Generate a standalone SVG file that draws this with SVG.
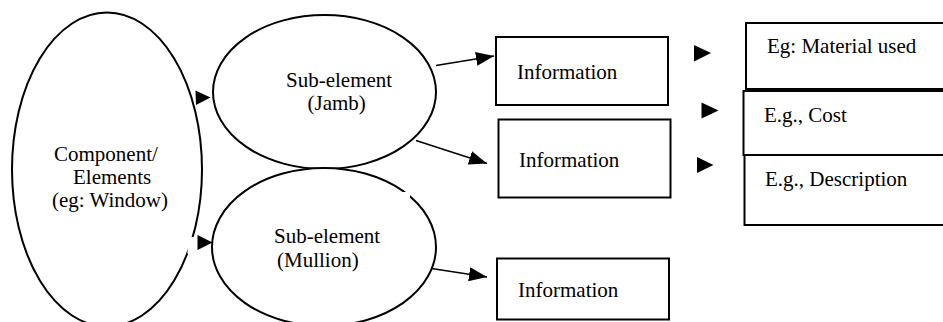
<svg xmlns="http://www.w3.org/2000/svg" width="943" height="322" viewBox="0 0 943 322">
  <defs>
    <style>
      .shape { fill: #fff; stroke: #000; stroke-width: 2; }
      .lbl { font-family: "Liberation Serif", "Times New Roman", serif; font-size: 21px; fill: #000; }
      .conn { stroke: #000; stroke-width: 1.4; fill: none; }
      .head { fill: #000; stroke: none; }
    </style>
    <marker id="arr" markerUnits="userSpaceOnUse" markerWidth="18" markerHeight="14" refX="18" refY="7" orient="auto">
      <path d="M0,0 L18,7 L0,14 z" fill="#000"/>
    </marker>
  </defs>
  <rect width="943" height="322" fill="#fff"/>

  <g id="component">
    <ellipse class="shape" cx="107" cy="169.5" rx="95" ry="157"/>
    <text class="lbl" x="54" y="160.5">Component/</text>
    <text class="lbl" x="73" y="184">Elements</text>
    <text class="lbl" x="52" y="206.5">(eg: Window)</text>
  </g>

  <g id="jamb">
    <ellipse class="shape" cx="324.5" cy="92" rx="111.5" ry="77"/>
    <text class="lbl" x="286" y="87">Sub-element</text>
    <text class="lbl" x="307.5" y="110">(Jamb)</text>
  </g>

  <g id="mullion">
    <ellipse class="shape" cx="324" cy="247" rx="112" ry="79"/>
    <text class="lbl" x="274" y="243">Sub-element</text>
    <text class="lbl" x="277" y="266.5">(Mullion)</text>
  </g>

  <g id="info1">
    <rect class="shape" x="496" y="37" width="172" height="68"/>
    <text class="lbl" x="517" y="79">Information</text>
  </g>
  <g id="info2">
    <rect class="shape" x="498.5" y="119.5" width="172" height="78"/>
    <text class="lbl" x="519" y="166.5">Information</text>
  </g>
  <g id="info3">
    <rect class="shape" x="497" y="258.5" width="172" height="61"/>
    <text class="lbl" x="518" y="296.5">Information</text>
  </g>

  <g id="material">
    <rect class="shape" x="746" y="23" width="210" height="66"/>
    <text class="lbl" x="767" y="53">Eg: Material used</text>
  </g>
  <g id="cost">
    <rect class="shape" x="743.5" y="91" width="210" height="64"/>
    <text class="lbl" x="764" y="121.5">E.g., Cost</text>
  </g>
  <g id="description">
    <rect class="shape" x="744.5" y="155" width="210" height="70"/>
    <text class="lbl" x="765" y="186">E.g., Description</text>
  </g>

  <g id="connectors">
    <polygon class="head" points="195.5,90.5 210.5,97.5 196,105"/>
    <rect x="187.5" y="237" width="7" height="17" fill="#fff"/>
    <polygon class="head" points="197.5,235 212.5,242.5 197.5,250"/>
    <rect x="403" y="192" width="7" height="6" fill="#fff"/>
    <line class="conn" x1="436" y1="65.5" x2="494" y2="56" marker-end="url(#arr)"/>
    <line class="conn" x1="416" y1="140.5" x2="487" y2="163.5" marker-end="url(#arr)"/>
    <line class="conn" x1="431.5" y1="268.5" x2="487" y2="277" marker-end="url(#arr)"/>
    <polygon class="head" points="694,45 711,53 694,61.5"/>
    <polygon class="head" points="701.5,102.5 718.5,110.5 701.5,118.5"/>
    <polygon class="head" points="697,157 713.5,165 697,173"/>
  </g>
</svg>
